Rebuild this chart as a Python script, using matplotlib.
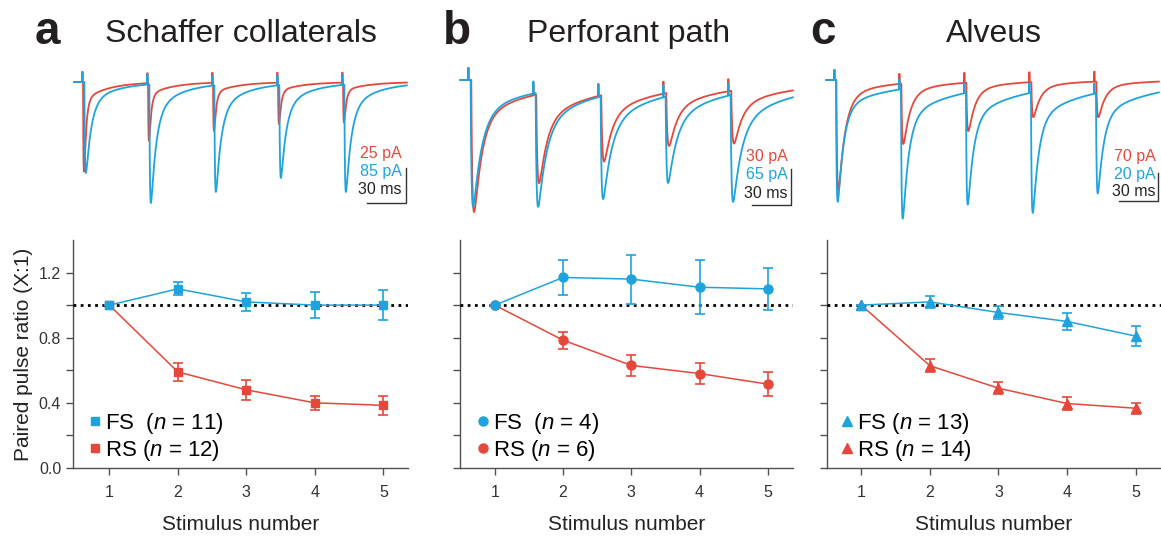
import numpy as np
import matplotlib.pyplot as plt
from matplotlib.lines import Line2D

plt.rcParams['font.family'] = ['Liberation Sans', 'DejaVu Sans']
plt.rcParams['mathtext.fontset'] = 'custom'
plt.rcParams['mathtext.it'] = 'Liberation Sans:italic'
plt.rcParams['mathtext.rm'] = 'Liberation Sans'

BLUE = '#1ea3dd'
RED = '#e5483b'
SPINE = '#505050'

W, H = 1161, 542

# ---- paired pulse ratio data (mean, sem) ----
stim = [1, 2, 3, 4, 5]

sc_fs = [1.00, 1.10, 1.02, 1.00, 1.00]
sc_fs_err = [0.0, 0.04, 0.055, 0.08, 0.09]
sc_rs = [1.00, 0.59, 0.48, 0.40, 0.385]
sc_rs_err = [0.0, 0.055, 0.06, 0.043, 0.058]

pp_fs = [1.00, 1.17, 1.16, 1.11, 1.10]
pp_fs_err = [0.0, 0.11, 0.15, 0.165, 0.13]
pp_rs = [1.00, 0.785, 0.63, 0.58, 0.515]
pp_rs_err = [0.0, 0.053, 0.065, 0.064, 0.075]

al_fs = [1.00, 1.02, 0.955, 0.90, 0.81]
al_fs_err = [0.0, 0.035, 0.04, 0.05, 0.06]
al_rs = [1.00, 0.628, 0.49, 0.396, 0.367]
al_rs_err = [0.0, 0.04, 0.037, 0.038, 0.034]

# ---- example traces: EPSC peak amplitudes (pA) for the 5 pulses ----
pulse_ms = [0, 50, 100, 150, 200]
sc_red_pA = [64, 42, 35, 30, 29]
sc_blue_pA = [221, 294, 267, 233, 267]
pp_red_pA = [110, 86, 68, 55, 53]
pp_blue_pA = [229, 229, 215, 186, 220]
al_red_pA = [275, 160, 128, 93, 93]
al_blue_pA = [87, 99, 89, 95, 81]

scale_red = [25, 30, 70]
scale_blue = [85, 65, 20]

titles = ['Schaffer collaterals', 'Perforant path', 'Alveus']
letters = ['a', 'b', 'c']

# kinetics: (rise, tau_fast, tau_slow, slow fraction, delay) in ms
kin_red = [(0.4, 1.6, 18, 0.12, 0.8), (1.0, 6.0, 50, 0.2, 2.5), (0.7, 5.0, 30, 0.12, 1.8)]
kin_blue = [(0.5, 4.0, 22, 0.18, 1.8), (0.8, 6.5, 50, 0.2, 2.0), (0.6, 4.5, 45, 0.16, 1.5)]


def trace(t, amps, kin, art):
    rise, tf, ts, fs, dl = kin
    s = np.arange(0, 300, 0.05)
    k = (1 - np.exp(-s / rise)) * ((1 - fs) * np.exp(-s / tf) + fs * np.exp(-s / ts))
    tpk = s[k.argmax()]
    k = k / k.max()
    y = np.zeros_like(t)
    for t0, a in zip(pulse_ms, amps):
        # peak depth read from baseline, so remove what is left of earlier events
        left = np.interp(t0 + dl + tpk, t, y)
        a_eff = a + left
        ss = t - t0 - dl
        m = ss > 0
        y[m] -= a_eff * np.interp(ss[m], s, k)
    for t0 in pulse_ms:
        m = (t >= t0) & (t < t0 + 0.5)
        y[m] += art
    return y


fig = plt.figure(figsize=(W / 100, H / 100), dpi=100)

# bottom panels
ax_px = [(73, 408, 0.47, 5.36), (460, 793, 0.49, 5.37), (827, 1161, 0.50, 5.37)]
pp_data = [(sc_fs, sc_fs_err, sc_rs, sc_rs_err),
           (pp_fs, pp_fs_err, pp_rs, pp_rs_err),
           (al_fs, al_fs_err, al_rs, al_rs_err)]
markers = ['s', 'o', '^']
ns = [(11, 12), (4, 6), (13, 14)]
fs_lab = ['FS  ($\\it{n}$ = %d)', 'FS  ($\\it{n}$ = %d)', 'FS ($\\it{n}$ = %d)']
leg_x = [89, 477, 841]

for i in range(3):
    l, r, x0, x1 = ax_px[i]
    ax = fig.add_axes([l / W, 1 - 468 / H, (r - l) / W, (468 - 240) / H])
    fsv, fse, rsv, rse = pp_data[i]
    mk = markers[i]
    ms = 6 if mk == 's' else (6.5 if mk == 'o' else 7)
    ax.errorbar(stim, rsv, yerr=rse, color=RED, marker=mk, ms=ms, lw=1.1,
                elinewidth=1.2, capsize=3.5, capthick=1.2, zorder=4)
    ax.errorbar(stim, fsv, yerr=fse, color=BLUE, marker=mk, ms=ms, lw=1.1,
                elinewidth=1.2, capsize=3.5, capthick=1.2, zorder=4)
    ax.axhline(1.0, color='black', lw=2.0, ls=(0, (1, 1.6)), zorder=3.5)
    ax.set_xlim(x0, x1)
    ax.set_ylim(0, 1.4)
    ax.set_xticks(stim)
    ax.set_yticks([0, 0.2, 0.4, 0.6, 0.8, 1.0, 1.2])
    for s in ['top', 'right']:
        ax.spines[s].set_visible(False)
    for s in ['left', 'bottom']:
        ax.spines[s].set_color(SPINE)
        ax.spines[s].set_linewidth(1.0)
    ax.tick_params(direction='out', length=5, width=1.0, color=SPINE,
                   labelsize=11.5, labelcolor='#333333')
    ax.tick_params(axis='x', pad=7)
    if i == 0:
        ax.set_yticklabels(['0.0', '', '0.4', '', '0.8', '', '1.2'])
        ax.set_ylabel('Paired pulse ratio (X:1)', fontsize=15, labelpad=4,
                      color='#222222')
    else:
        ax.set_yticklabels([])
    ax.set_xlabel('Stimulus number', fontsize=15, labelpad=11, color='#222222')
    h = [Line2D([], [], ls='none', marker=mk, color=BLUE, ms=ms),
         Line2D([], [], ls='none', marker=mk, color=RED, ms=ms)]
    labs = [fs_lab[i] % ns[i][0], 'RS ($\\it{n}$ = %d)' % ns[i][1]]
    ax.legend(h, labs, loc='center left',
              bbox_to_anchor=((leg_x[i] - l) / (r - l), (468 - 437) / 228),
              frameon=False, fontsize=16, handlelength=0.5, handletextpad=0.2,
              labelspacing=0.1, borderaxespad=0, borderpad=0)

# traces
pulse1_px = [82, 468, 834]
base_px = [82, 80, 80]
bar_px = [35, 36, 28]
bar_bot_px = [203, 205, 201]
bar_x_px = [406.5, 791.5, 1158]
txt_right = [402, 788, 1156]
txt_y = [(153, 172, 190), (157, 175, 193), (157, 174, 192)]
red_amps = [sc_red_pA, pp_red_pA, al_red_pA]
blue_amps = [sc_blue_pA, pp_blue_pA, al_blue_pA]
art_px = [10, 12, 10]

t = np.arange(-6, 250, 0.1)
for i in range(3):
    left = pulse1_px[i] - 9 * 1.3
    axt = fig.add_axes([left / W, 1 - 235 / H, 340 / W, 180 / H])
    axt.set_xlim(-9, -9 + 340 / 1.3)
    axt.set_ylim(-(235 - base_px[i]) / bar_px[i], (base_px[i] - 55) / bar_px[i])
    axt.axis('off')
    art = art_px[i] / bar_px[i]
    yr = trace(t, red_amps[i], kin_red[i], art * scale_red[i]) / scale_red[i]
    yb = trace(t, blue_amps[i], kin_blue[i], art * scale_blue[i]) / scale_blue[i]
    axt.plot(t, yr, color=RED, lw=1.3)
    axt.plot(t, yb, color=BLUE, lw=1.3)
    # scale bar
    tb = (bar_x_px[i] - pulse1_px[i]) / 1.3
    yb0 = -(bar_bot_px[i] - base_px[i]) / bar_px[i]
    axt.plot([tb - 30, tb, tb], [yb0, yb0, yb0 + 1], color='#333333', lw=1.0,
             clip_on=False)
    cols = [RED, BLUE, '#222222']
    txts = ['%d pA' % scale_red[i], '%d pA' % scale_blue[i], '30 ms']
    for c, s, yy in zip(cols, txts, txt_y[i]):
        fig.text(txt_right[i] / W, 1 - yy / H, s, color=c, fontsize=11.5,
                 ha='right', va='center')

# titles
let_x = [35, 443, 810]
tit_x = [241, 629, 994]
for i in range(3):
    fig.text(let_x[i] / W, 1 - 32 / H, letters[i], fontsize=33, fontweight='bold',
             ha='left', va='center', color='#231f20')
    fig.text(tit_x[i] / W, 1 - 34 / H, titles[i], fontsize=23, ha='center',
             va='center', color='#231f20')

fig.savefig('out.png', dpi=100)
